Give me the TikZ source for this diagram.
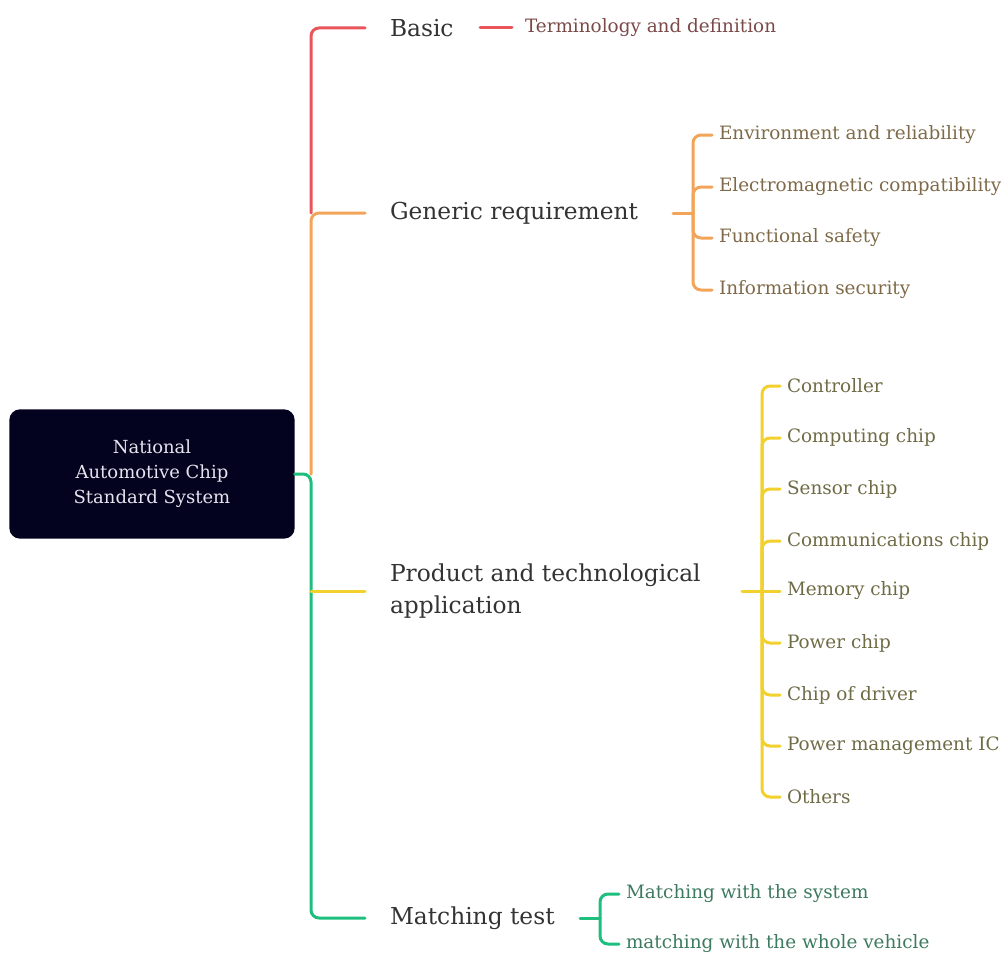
\documentclass[tikz,border=0pt]{standalone}
\usepackage{fontspec}
\setmainfont{DejaVu Serif}
\usepackage{tikz}
\usetikzlibrary{positioning, calc, backgrounds}

\definecolor{rootblue}{HTML}{03031F}
\definecolor{roottext}{HTML}{E6E3EE}
\definecolor{darktext}{HTML}{333333}
\definecolor{cRed}{HTML}{E8555A}
\definecolor{cOrange}{HTML}{F2A558}
\definecolor{cYellow}{HTML}{F2D02E}
\definecolor{cGreen}{HTML}{1EBF7E}
\definecolor{tRed}{HTML}{7A4A48}
\definecolor{tOrange}{HTML}{7E6A48}
\definecolor{tYellow}{HTML}{6E6B45}
\definecolor{tGreen}{HTML}{3D7A5F}

\begin{document}
\begin{tikzpicture}[x=0.75pt,y=-0.75pt,every node/.style={outer sep=0pt,inner sep=0pt}]
\tikzstyle{branch}=[line width=2.25pt,line cap=round,rounded corners=6pt]
\tikzstyle{topic}=[anchor=west,align=left,text=darktext,font=\fontsize{17.5}{24}\selectfont]
\tikzstyle{leaf}=[anchor=west,font=\fontsize{13.8}{16}\selectfont]

\useasboundingbox (0,0) rectangle (1007,956);

\node (root) [fill=rootblue, rounded corners=8pt, minimum width=214pt, minimum height=97pt, text=roottext, align=center, font=\fontsize{13.5}{18.75}\selectfont] at (152,474) {National\\Automotive Chip\\Standard System};

\node (basic) [topic] at (390,28) {Basic};
\node (generic) [topic] at (390,213) {Generic requirement};
\node (product) [topic] at (390,591) {Product and technological\\application};
\node (matching) [topic] at (390,918) {Matching test};

\coordinate (trunk) at (311,474);
\coordinate (gk) at (693,213);
\coordinate (pk) at (762,591);
\coordinate (mk) at (600,918);

% main trunk
\draw [branch, cRed] ($(basic.west)+(-25,0)$) -| (trunk |- generic.west);
\draw [branch, cOrange] ($(generic.west)+(-25,0)$) -- (trunk |- generic.west) -- (trunk);
\draw [branch, cGreen] (root.east) -- (trunk) |- ($(matching.west)+(-25,0)$);
\draw [branch, cYellow] (trunk |- product.west) -- ($(product.west)+(-25,0)$);

% basic
\node (terms) [leaf, text=tRed] at (525,28) {Terminology and definition};
\draw [branch, cRed] ($(terms.west)+(-45,0)$) -- ($(terms.west)+(-13,0)$);

% generic requirement
\node (env) [leaf, text=tOrange] at (719,135) {Environment and reliability};
\node (emc) [leaf, text=tOrange] at (719,187) {Electromagnetic compatibility};
\node (safety) [leaf, text=tOrange] at (719,238) {Functional safety};
\node (security) [leaf, text=tOrange] at (719,290) {Information security};
\draw [branch, cOrange] ($(gk)+(-20,0)$) -- (gk);
\draw [branch, cOrange] (gk) |- ($(env.west)+(-7,0)$);
\draw [branch, cOrange] (gk) |- ($(emc.west)+(-7,0)$);
\draw [branch, cOrange] (gk) |- ($(safety.west)+(-7,0)$);
\draw [branch, cOrange] (gk) |- ($(security.west)+(-7,0)$);

% product and technological application
\node (ctrl) [leaf, text=tYellow] at (787,386) {Controller};
\node (comp) [leaf, text=tYellow] at (787,438) {Computing chip};
\node (sens) [leaf, text=tYellow] at (787,489) {Sensor chip};
\node (comm) [leaf, text=tYellow] at (787,541) {Communications chip};
\node (mem) [leaf, text=tYellow] at (787,591) {Memory chip};
\node (pow) [leaf, text=tYellow] at (787,643) {Power chip};
\node (drv) [leaf, text=tYellow] at (787,695) {Chip of driver};
\node (pmic) [leaf, text=tYellow] at (787,746) {Power management IC};
\node (other) [leaf, text=tYellow] at (787,797) {Others};
\draw [branch, cYellow] ($(pk)+(-20,0)$) -- (pk);
\draw [branch, cYellow] (pk) |- ($(ctrl.west)+(-7,0)$);
\draw [branch, cYellow] (pk) |- ($(comp.west)+(-7,0)$);
\draw [branch, cYellow] (pk) |- ($(sens.west)+(-7,0)$);
\draw [branch, cYellow] (pk) |- ($(comm.west)+(-7,0)$);
\draw [branch, cYellow] (pk) -- ($(mem.west)+(-7,0)$);
\draw [branch, cYellow] (pk) |- ($(pow.west)+(-7,0)$);
\draw [branch, cYellow] (pk) |- ($(drv.west)+(-7,0)$);
\draw [branch, cYellow] (pk) |- ($(pmic.west)+(-7,0)$);
\draw [branch, cYellow] (pk) |- ($(other.west)+(-7,0)$);

% matching test
\node (sys) [leaf, text=tGreen] at (626,894) {Matching with the system};
\node (veh) [leaf, text=tGreen] at (626,944) {matching with the whole vehicle};
\draw [branch, cGreen] ($(mk)+(-20,0)$) -- (mk);
\draw [branch, cGreen] (mk) |- ($(sys.west)+(-7,0)$);
\draw [branch, cGreen] (mk) |- ($(veh.west)+(-7,0)$);

\end{tikzpicture}
\end{document}
